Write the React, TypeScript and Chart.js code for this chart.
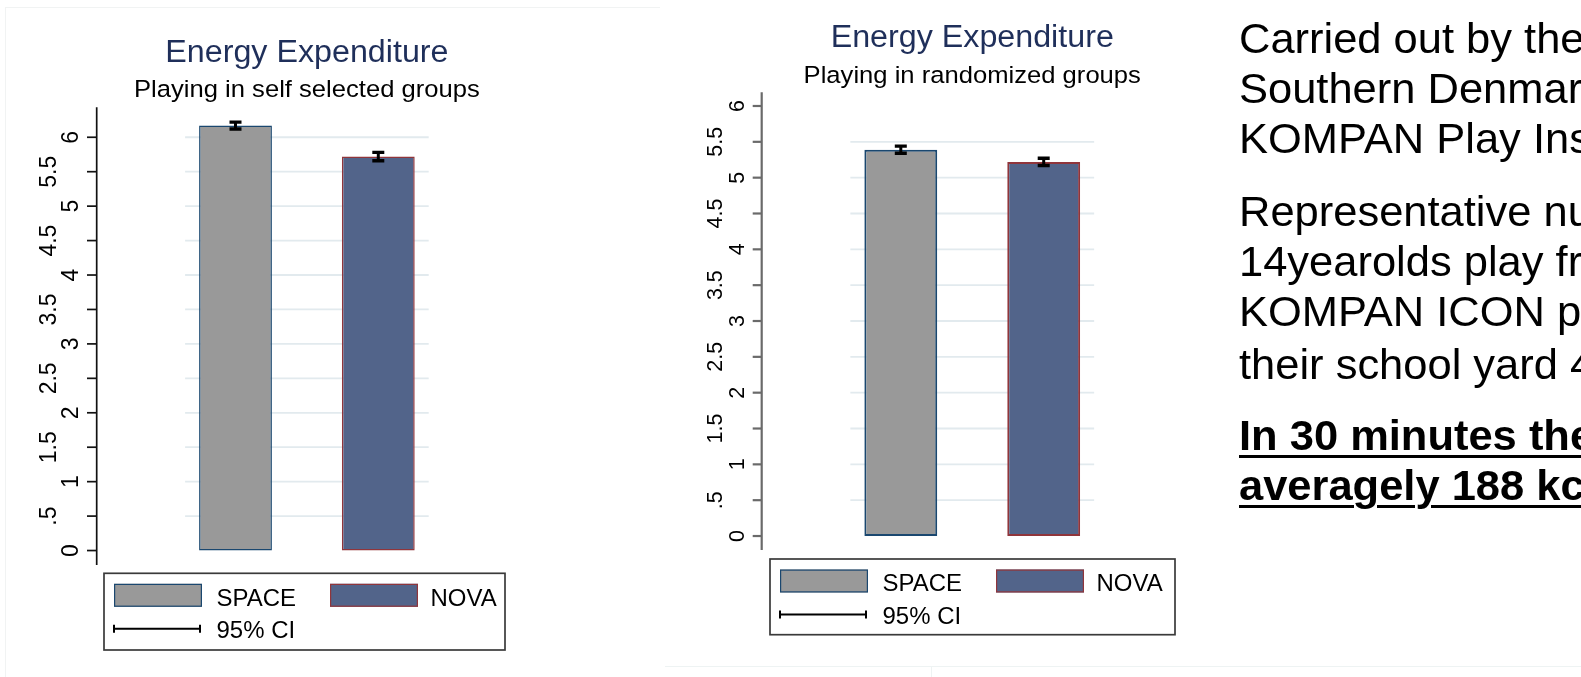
import React, { useEffect, useRef } from "react";
import { Chart, registerables } from "chart.js";

Chart.register(...registerables);

// ---------- data ----------
const CATEGORIES = ["SPACE", "NOVA"];
const SELF_MEANS = [6.17, 5.72];
const SELF_CI_LOW = [6.12, 5.66];
const SELF_CI_HIGH = [6.22, 5.78];
const RAND_MEANS = [5.39, 5.22];
const RAND_CI_LOW = [5.34, 5.17];
const RAND_CI_HIGH = [5.44, 5.27];
const Y_TICKS = [0, 0.5, 1, 1.5, 2, 2.5, 3, 3.5, 4, 4.5, 5, 5.5, 6];
const Y_TICK_LABELS = ["0", ".5", "1", "1.5", "2", "2.5", "3", "3.5", "4", "4.5", "5", "5.5", "6"];
const TITLE = "Energy Expenditure";
const SUBTITLE_SELF = "Playing in self selected groups";
const SUBTITLE_RAND = "Playing in randomized groups";
const CI_LABEL = "95% CI";

const PARA_LINES = [
  "Carried out by the",
  "Southern Denmark",
  "KOMPAN Play Institute",
  "Representative number",
  "14yearolds play from",
  "KOMPAN ICON play",
  "their school yard 4",
];
const BOLD_LINES = ["In 30 minutes the", "averagely 188 kcal"];

// ---------- styles ----------
const FONT = '"Liberation Sans", Arial, Helvetica, sans-serif';
const BAR_FILLS = ["#999999", "#52648a"];
const BAR_BORDERS = ["#1a476f", "#90353b"];
const TITLE_COLOR = "#1f2f5a";
const GRID_COLOR = "#e2eaee";

type Spec = {
  canvasLeft: number;
  canvasWidth: number;
  padding: { left: number; right: number; top: number; bottom: number };
  yMin: number;
  yMax: number;
  means: number[];
  ciLow: number[];
  ciHigh: number[];
  subtitle: string;
  titleBaseline: number;
  subtitleBaseline: number;
  gridSkip: number[];
  axisOffset: number;
  axisColor: string;
  axisWidth: number;
  tickLen: number;
  labelSize: number;
  labelStretch: number;
  gapInner: number;
  gapOuter: number;
  barBorderWidth: number;
  legend: { x: number; y: number; w: number; h: number };
};

const SPEC_SELF: Spec = {
  canvasLeft: 0,
  canvasWidth: 613,
  padding: { left: 164.1, right: 163.3, top: 107.3, bottom: 112 },
  yMin: -0.21,
  yMax: 6.435,
  means: SELF_MEANS,
  ciLow: SELF_CI_LOW,
  ciHigh: SELF_CI_HIGH,
  subtitle: SUBTITLE_SELF,
  titleBaseline: 61.7,
  subtitleBaseline: 96.7,
  gridSkip: [0],
  axisOffset: 67.4,
  axisColor: "#111111",
  axisWidth: 1.7,
  tickLen: 9.7,
  labelSize: 23,
  labelStretch: 1.07,
  gapInner: 8.7,
  gapOuter: 31.5,
  barBorderWidth: 1.5,
  legend: { x: 104, y: 573.3, w: 401, h: 76.7 },
};

const SPEC_RAND: Spec = {
  canvasLeft: 660,
  canvasWidth: 624,
  padding: { left: 169.35, right: 168.85, top: 92.3, bottom: 127 },
  yMin: -0.195,
  yMax: 6.191,
  means: RAND_MEANS,
  ciLow: RAND_CI_LOW,
  ciHigh: RAND_CI_HIGH,
  subtitle: SUBTITLE_RAND,
  titleBaseline: 46.6,
  subtitleBaseline: 83,
  gridSkip: [0, 6],
  axisOffset: 67.65,
  axisColor: "#6a6a6a",
  axisWidth: 2.2,
  tickLen: 9,
  labelSize: 21.5,
  labelStretch: 1.0,
  gapInner: 9.2,
  gapOuter: 31.2,
  barBorderWidth: 2,
  legend: { x: 110, y: 559, w: 405, h: 75.7 },
};

function stretchedText(ctx: any, text: string, x: number, y: number, sx: number) {
  ctx.save();
  ctx.translate(x, y);
  ctx.scale(sx, 1);
  ctx.fillText(text, 0, 0);
  ctx.restore();
}

function makeDecor(spec: Spec) {
  return {
    id: "stataDecor",
    beforeDatasetsDraw(chart: any) {
      const ctx = chart.ctx;
      const y = chart.scales.y;
      const { left, right } = chart.chartArea;
      const inset = 21;
      ctx.save();
      ctx.strokeStyle = GRID_COLOR;
      ctx.lineWidth = 1.8;
      Y_TICKS.forEach((v) => {
        if (spec.gridSkip.includes(v)) return;
        const py = y.getPixelForValue(v);
        ctx.beginPath();
        ctx.moveTo(left + inset, py);
        ctx.lineTo(right - inset, py);
        ctx.stroke();
      });
      ctx.restore();
    },
    afterDatasetsDraw(chart: any) {
      const ctx = chart.ctx;
      const y = chart.scales.y;
      const meta = chart.getDatasetMeta(0);
      ctx.save();
      ctx.strokeStyle = "#000000";
      ctx.lineCap = "butt";
      meta.data.forEach((bar: any, i: number) => {
        const x = bar.x;
        const yl = y.getPixelForValue(spec.ciLow[i]);
        const yh = y.getPixelForValue(spec.ciHigh[i]);
        ctx.lineWidth = 3;
        ctx.beginPath();
        ctx.moveTo(x, yh);
        ctx.lineTo(x, yl);
        ctx.stroke();
        ctx.lineWidth = 3.4;
        ctx.beginPath();
        ctx.moveTo(x - 6, yh);
        ctx.lineTo(x + 6, yh);
        ctx.moveTo(x - 6, yl);
        ctx.lineTo(x + 6, yl);
        ctx.stroke();
      });
      ctx.restore();
    },
    afterDraw(chart: any) {
      const ctx = chart.ctx;
      const y = chart.scales.y;
      const area = chart.chartArea;
      const ax = area.left - spec.axisOffset;
      ctx.save();
      // axis line
      ctx.strokeStyle = spec.axisColor;
      ctx.lineWidth = spec.axisWidth;
      ctx.beginPath();
      ctx.moveTo(ax, area.top);
      ctx.lineTo(ax, area.bottom);
      ctx.stroke();
      // ticks + rotated labels
      ctx.fillStyle = "#000000";
      ctx.font = `${spec.labelSize}px ${FONT}`;
      ctx.textAlign = "center";
      ctx.textBaseline = "alphabetic";
      Y_TICKS.forEach((v, i) => {
        const py = y.getPixelForValue(v);
        ctx.lineWidth = spec.axisWidth;
        ctx.beginPath();
        ctx.moveTo(ax - spec.tickLen, py);
        ctx.lineTo(ax, py);
        ctx.stroke();
        const bx = ax - spec.tickLen - (i % 2 === 0 ? spec.gapInner : spec.gapOuter);
        ctx.save();
        ctx.translate(bx, py);
        ctx.rotate(-Math.PI / 2);
        ctx.scale(1, spec.labelStretch);
        ctx.fillText(Y_TICK_LABELS[i], 0, 0);
        ctx.restore();
      });
      // titles
      const cx = (area.left + area.right) / 2;
      ctx.textAlign = "center";
      ctx.fillStyle = TITLE_COLOR;
      ctx.font = `31px ${FONT}`;
      stretchedText(ctx, TITLE, cx, spec.titleBaseline, 1.04);
      ctx.fillStyle = "#000000";
      ctx.font = `24.5px ${FONT}`;
      stretchedText(ctx, spec.subtitle, cx, spec.subtitleBaseline, 1.045);
      // legend
      const L = spec.legend;
      ctx.strokeStyle = "#3a3a3a";
      ctx.lineWidth = 1.7;
      ctx.strokeRect(L.x, L.y, L.w, L.h);
      const labels: string[] = chart.data.labels;
      const ds = chart.data.datasets[0];
      const swX = [10, 226];
      const txX = [112.5, 326.5];
      ctx.font = `23.5px ${FONT}`;
      ctx.textAlign = "left";
      labels.forEach((lab, i) => {
        const sx = L.x + swX[i];
        const sy = L.y + 10.5;
        ctx.fillStyle = ds.backgroundColor[i];
        ctx.fillRect(sx, sy, 88, 23);
        ctx.strokeStyle = ds.borderColor[i];
        ctx.lineWidth = 1.2;
        ctx.strokeRect(sx + 0.6, sy + 0.6, 86.8, 21.8);
        ctx.fillStyle = "#000000";
        stretchedText(ctx, lab, L.x + txX[i], L.y + 32.2, 1.02);
      });
      // CI legend entry
      const cy = L.y + 55.5;
      ctx.strokeStyle = "#000000";
      ctx.lineWidth = 2;
      ctx.beginPath();
      ctx.moveTo(L.x + 10, cy);
      ctx.lineTo(L.x + 96, cy);
      ctx.moveTo(L.x + 10, cy - 4);
      ctx.lineTo(L.x + 10, cy + 4);
      ctx.moveTo(L.x + 96, cy - 4);
      ctx.lineTo(L.x + 96, cy + 4);
      ctx.stroke();
      ctx.fillStyle = "#000000";
      stretchedText(ctx, CI_LABEL, L.x + 112.5, L.y + 64.5, 1.02);
      ctx.restore();
    },
  };
}

function StataBar({ spec }: { spec: Spec }) {
  const ref = useRef<HTMLCanvasElement>(null);
  useEffect(() => {
    if (!ref.current) return;
    const chart = new Chart(ref.current, {
      type: "bar",
      data: {
        labels: CATEGORIES,
        datasets: [
          {
            label: TITLE,
            data: spec.means,
            backgroundColor: BAR_FILLS,
            borderColor: BAR_BORDERS,
            borderWidth: spec.barBorderWidth,
            borderSkipped: false,
            categoryPercentage: 1,
            barPercentage: 0.51,
          },
        ],
      },
      options: {
        responsive: false,
        animation: false,
        events: [],
        layout: { padding: spec.padding },
        scales: {
          x: { display: false },
          y: { display: false, min: spec.yMin, max: spec.yMax },
        },
        plugins: {
          legend: { display: false },
          tooltip: { enabled: false },
          title: { display: false },
        },
      },
      plugins: [makeDecor(spec)],
    } as any);
    return () => chart.destroy();
  }, [spec]);
  return (
    <canvas
      ref={ref}
      width={spec.canvasWidth}
      height={677}
      style={{ position: "absolute", left: spec.canvasLeft, top: 0, width: spec.canvasWidth, height: 677 }}
    />
  );
}

const TEXT_LEFT = 1239;
const PARA_BASELINES = [54, 103.6, 153.3, 226.7, 276.3, 326.5, 379.5];
const BOLD_BASELINES = [451, 501];

export default function App() {
  const lineStyle = (baseline: number, bold: boolean): React.CSSProperties => ({
    position: "absolute",
    left: TEXT_LEFT,
    top: baseline - 35.6,
    fontSize: 42,
    lineHeight: "42px",
    fontFamily: FONT,
    fontWeight: bold ? 700 : 400,
    color: "#000",
    whiteSpace: "nowrap",
    transform: "scaleX(1.035)",
    transformOrigin: "0 0",
    textDecoration: bold ? "underline" : "none",
    textDecorationThickness: bold ? "3px" : undefined,
    textUnderlineOffset: bold ? "5px" : undefined,
  });
  return (
    <div
      style={{
        position: "absolute",
        left: 0,
        top: 0,
        width: 1581,
        height: 677,
        overflow: "hidden",
        background: "#ffffff",
      }}
    >
      <div style={{ position: "absolute", left: 5, top: 7, width: 655, height: 1, background: "#f1f3f3" }} />
      <div style={{ position: "absolute", left: 5, top: 7, width: 1, height: 670, background: "#f1f3f3" }} />
      <div style={{ position: "absolute", left: 665, top: 666, width: 916, height: 1, background: "#eef3f3" }} />
      <div style={{ position: "absolute", left: 931, top: 666, width: 1, height: 11, background: "#eef3f3" }} />
      <StataBar spec={SPEC_SELF} />
      <StataBar spec={SPEC_RAND} />
      {PARA_LINES.map((t, i) => (
        <div key={"p" + i} style={lineStyle(PARA_BASELINES[i], false)}>
          {t}
        </div>
      ))}
      {BOLD_LINES.map((t, i) => (
        <div key={"b" + i} style={lineStyle(BOLD_BASELINES[i], true)}>
          {t}
        </div>
      ))}
    </div>
  );
}
